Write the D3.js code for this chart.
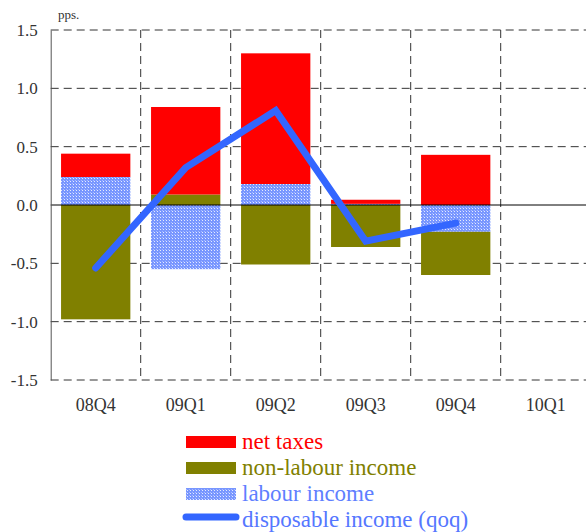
<!doctype html><html><head>
<style>
  body { margin: 0; background: #fff; }
</style>
</head><body><script src='https://d3js.org/d3.v7.min.js'></script>

<script>
  const categories = ["08Q4", "09Q1", "09Q2", "09Q3", "09Q4", "10Q1"];
  const labourIncome = [0.24, -0.55, 0.18, 0.01, -0.23, 0];
  const nonLabourIncome = [-0.98, 0.09, -0.51, -0.36, -0.37, 0];
  const netTaxes = [0.20, 0.75, 1.12, 0.035, 0.43, 0];
  const disposableIncome = [-0.54, 0.32, 0.81, -0.31, -0.155, null];
  const yTicks = [-1.5, -1.0, -0.5, 0, 0.5, 1.0, 1.5];

  const serif = "'Liberation Serif'";
  const width = 586, height = 532;
  const plotLeft = 50.7, plotRight = 590.7, plotTop = 30, plotBottom = 380;

  const table = categories.map(function(c, i) {
    return { cat: c, labour: labourIncome[i], nonlabour: nonLabourIncome[i], taxes: netTaxes[i] };
  });

  const x = d3.scaleBand()
    .domain(categories)
    .range([plotLeft, plotRight])
    .paddingInner(0.23)
    .paddingOuter(0.115);

  const y = d3.scaleLinear()
    .domain([-1.5, 1.5])
    .range([plotBottom, plotTop]);

  const svg = d3.select("body")
    .append("svg")
    .attr("width", width)
    .attr("height", height)
    .style("font-family", serif);

  // checker pattern for labour income
  const pat = svg.append("defs").append("pattern")
    .attr("id", "checker")
    .attr("patternUnits", "userSpaceOnUse")
    .attr("width", 3).attr("height", 3);
  pat.append("rect").attr("width", 3).attr("height", 3).attr("fill", "#7896ff");
  pat.append("rect").attr("x", 1).attr("y", 1).attr("width", 1).attr("height", 1).attr("fill", "#e4eaff");
  pat.append("rect").attr("x", 0).attr("y", 0).attr("width", 1).attr("height", 1).attr("fill", "#a9bbff");

  const step = x.step();
  const colEdges = categories.map(function(c) { return x(c) - step * x.paddingInner() / 2; }).slice(1);

  // grid
  svg.append("g")
    .selectAll("line")
    .data(yTicks.filter(function(d) { return d !== 0; }))
    .enter()
    .append("line")
    .attr("x1", plotLeft).attr("x2", plotRight)
    .attr("y1", function(d) { return y(d); })
    .attr("y2", function(d) { return y(d); })
    .attr("stroke", "#333")
    .attr("stroke-dasharray", "8,5");

  svg.append("g")
    .selectAll("line")
    .data(colEdges)
    .enter()
    .append("line")
    .attr("x1", function(d) { return d; })
    .attr("x2", function(d) { return d; })
    .attr("y1", plotTop).attr("y2", plotBottom)
    .attr("stroke", "#333")
    .attr("stroke-dasharray", "8,5");

  // stacked bars
  const keys = ["labour", "nonlabour", "taxes"];
  const fills = { labour: "url(#checker)", nonlabour: "#808000", taxes: "#ff0000" };
  const series = d3.stack().keys(keys).offset(d3.stackOffsetDiverging)(table);

  svg.append("g")
    .selectAll("g")
    .data(series)
    .enter()
    .append("g")
    .attr("fill", function(s) { return fills[s.key]; })
    .selectAll("rect")
    .data(function(s) { return s; })
    .enter()
    .append("rect")
    .attr("x", function(d) { return x(d.data.cat); })
    .attr("width", x.bandwidth())
    .attr("y", function(d) { return y(Math.max(d[0], d[1])); })
    .attr("height", function(d) { return Math.abs(y(d[0]) - y(d[1])); });

  // zero line and axis
  svg.append("line")
    .attr("x1", plotLeft).attr("x2", plotRight)
    .attr("y1", y(0)).attr("y2", y(0))
    .attr("stroke", "#000");

  const yAxis = svg.append("g")
    .attr("transform", "translate(" + plotLeft + ",0)")
    .call(d3.axisLeft(y).tickValues(yTicks).tickSize(0).tickPadding(13)
      .tickFormat(function(d) { return d.toFixed(1); }));
  yAxis.attr("font-family", null).attr("font-size", null);
  yAxis.select(".domain").attr("stroke", "#555");
  yAxis.selectAll("text")
    .style("font-family", serif)
    .style("font-size", "17px")
    .attr("fill", "#333");

  const xAxis = svg.append("g")
    .attr("transform", "translate(0," + plotBottom + ")")
    .call(d3.axisBottom(x).tickSize(0).tickPadding(18));
  xAxis.attr("font-family", null).attr("font-size", null);
  xAxis.select(".domain").remove();
  xAxis.selectAll("text")
    .style("font-family", serif)
    .style("font-size", "18px")
    .attr("fill", "#333");

  svg.append("text")
    .attr("x", 58).attr("y", 19)
    .style("font-family", serif)
    .style("font-size", "13px")
    .attr("fill", "#333")
    .text("pps.");

  // disposable income line
  const line = d3.line()
    .defined(function(d) { return d !== null; })
    .x(function(d, i) { return x(categories[i]) + x.bandwidth() / 2; })
    .y(function(d) { return y(d); });

  svg.append("path")
    .datum(disposableIncome)
    .attr("d", line)
    .attr("fill", "none")
    .attr("stroke", "#3366ff")
    .attr("stroke-width", 7)
    .attr("stroke-linecap", "round")
    .attr("stroke-linejoin", "miter");

  // legend
  const legendItems = [
    { name: "net taxes", fill: "#ff0000", color: "#ff0000", type: "rect" },
    { name: "non-labour income", fill: "#808000", color: "#808000", type: "rect" },
    { name: "labour income", fill: "url(#checker)", color: "#5f7fff", type: "rect" },
    { name: "disposable income (qoq)", fill: "#3366ff", color: "#5577ff", type: "line" }
  ];

  const lg = svg.append("g")
    .selectAll("g")
    .data(legendItems)
    .enter()
    .append("g")
    .attr("transform", function(d, i) { return "translate(186," + (449 + i * 26) + ")"; });

  lg.filter(function(d) { return d.type === "rect"; })
    .append("rect")
    .attr("x", 0).attr("y", -13)
    .attr("width", 50).attr("height", 12)
    .attr("fill", function(d) { return d.fill; });

  lg.filter(function(d) { return d.type === "line"; })
    .append("line")
    .attr("x1", 0).attr("x2", 50)
    .attr("y1", -10).attr("y2", -10)
    .attr("stroke", function(d) { return d.fill; })
    .attr("stroke-width", 7)
    .attr("stroke-linecap", "round");

  lg.append("text")
    .attr("x", 56)
    .attr("y", 0)
    .style("font-family", serif)
    .style("font-size", "23px")
    .attr("fill", function(d) { return d.color; })
    .text(function(d) { return d.name; });

</script></body></html>
